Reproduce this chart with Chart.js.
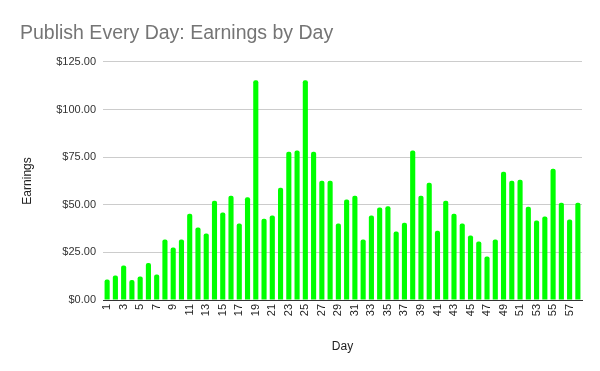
<!DOCTYPE html>
<html>
<head>
<meta charset="utf-8">
<script src="https://cdn.jsdelivr.net/npm/chart.js@4/dist/chart.umd.min.js"></script>
<style>
  html, body { margin: 0; padding: 0; background: #fff; }
  #wrap { width: 600px; height: 371px; }
</style>
</head>
<body>
<div id="wrap"><canvas id="chart" width="600" height="371"></canvas></div>
<script>
// Earnings per day
const days = [];
for (let d = 1; d <= 58; d++) days.push(String(d));

const earnings = [
  10.8, 12.9, 18.1, 10.5, 12.4, 19.4, 13.4, 31.7, 27.5, 31.7,
  45.3, 38.0, 34.9, 52.1, 45.9, 54.7, 40.1, 53.9, 115.4, 42.7,
  44.3, 58.9, 77.8, 78.5, 115.4, 77.8, 62.6, 62.6, 40.1, 52.7,
  54.7, 31.7, 44.3, 48.5, 49.2, 35.9, 40.6, 78.5, 54.7, 61.5,
  36.4, 52.1, 45.3, 40.1, 33.8, 30.7, 22.8, 31.7, 67.3, 62.6,
  63.1, 49.0, 41.7, 43.8, 68.9, 51.1, 42.2, 51.1
];

const yTicks = [0, 25, 50, 75, 100, 125];

const font = 'Liberation Sans, Arial, sans-serif';

new Chart(document.getElementById('chart'), {
  type: 'bar',
  data: {
    labels: days,
    datasets: [{
      label: 'Earnings',
      data: earnings,
      backgroundColor: '#00ff00',
      borderWidth: 0,
      borderRadius: { topLeft: 2, topRight: 2 },
      borderSkipped: 'bottom',
      barPercentage: 0.62,
      categoryPercentage: 1.0
    }]
  },
  options: {
    responsive: false,
    animation: false,
    layout: { padding: { left: 20, right: 18, top: 0, bottom: 17 } },
    plugins: {
      legend: { display: false },
      tooltip: { enabled: false },
      title: {
        display: true,
        text: 'Publish Every Day: Earnings by Day',
        align: 'start',
        color: '#757575',
        font: { family: font, size: 19.5, weight: 'normal' },
        padding: { top: 22, bottom: 16.5 }
      }
    },
    scales: {
      x: {
        grid: { display: false, drawTicks: false },
        border: { color: '#333333', width: 1 },
        ticks: {
          autoSkip: false,
          maxRotation: 90,
          minRotation: 90,
          padding: 4,
          color: '#222222',
          font: { family: font, size: 11 },
          callback: function (val, i) { return i % 2 === 0 ? this.getLabelForValue(val) : ''; }
        },
        title: {
          display: true,
          text: 'Day',
          color: '#222222',
          font: { family: font, size: 12 },
          padding: { top: 10, bottom: 0 }
        },
        afterFit: function (scale) { scale.height = 54; }
      },
      y: {
        min: 0,
        max: 125,
        afterBuildTicks: function (scale) { scale.ticks = yTicks.map(v => ({ value: v })); },
        grid: { color: '#cccccc', drawTicks: false },
        border: { display: false },
        ticks: {
          padding: 7,
          color: '#333333',
          font: { family: font, size: 11 },
          callback: v => '$' + v.toFixed(2)
        },
        title: {
          display: true,
          text: 'Earnings',
          color: '#222222',
          font: { family: font, size: 12 },
          padding: { top: 0, bottom: 6 }
        },
        afterFit: function (scale) { scale.width = 83; }
      }
    }
  }
});
</script>
</body>
</html>
